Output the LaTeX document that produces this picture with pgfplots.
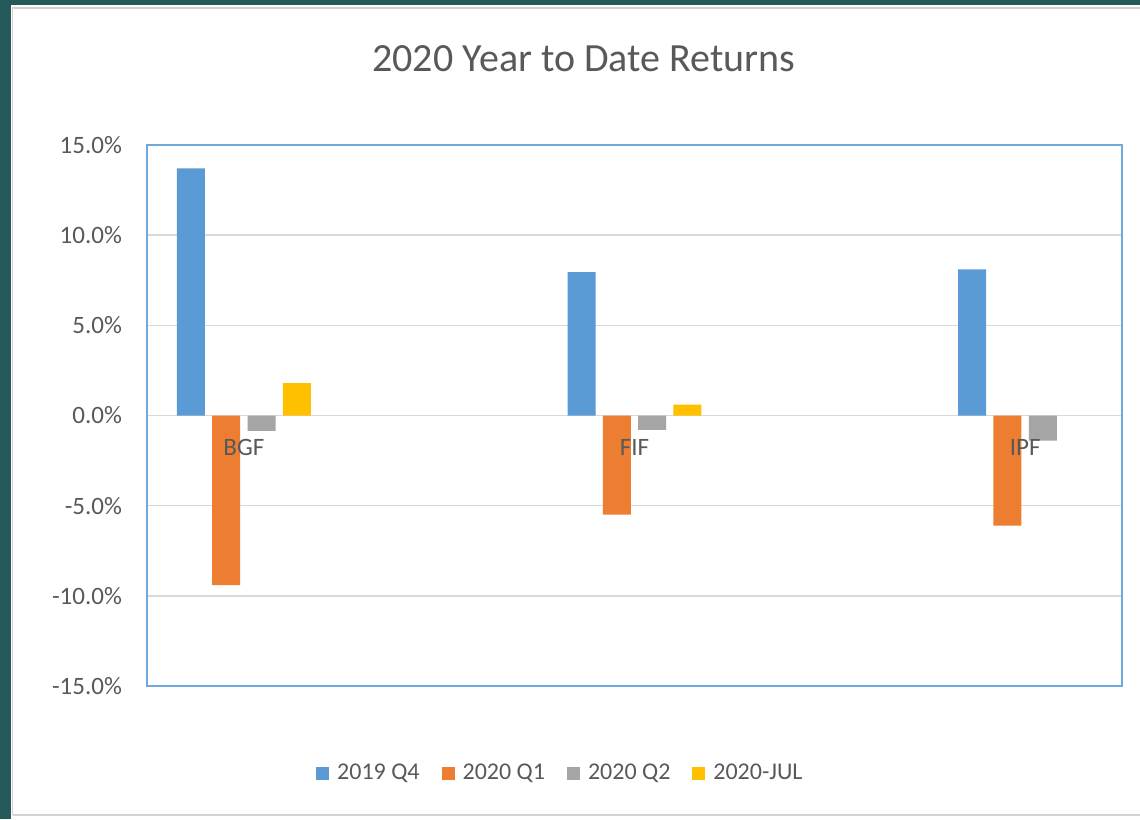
\documentclass[border=0pt]{standalone}
\usepackage{fontspec}
\setmainfont{Carlito}
\usepackage{pgfplots}
\pgfplotsset{compat=1.18}
\definecolor{xlblue}{HTML}{5B9BD5}
\definecolor{xlorange}{HTML}{ED7D31}
\definecolor{xlgray}{HTML}{A5A5A5}
\definecolor{xlyellow}{HTML}{FFC000}
\definecolor{xltext}{HTML}{595959}
\definecolor{xlgrid}{HTML}{D9D9D9}
\definecolor{xlframe}{HTML}{6FA8DC}
\definecolor{sheetteal}{HTML}{245A5A}
\pgfplotsset{
 xlframe/.style={
  at={(73.5pt,66.5pt)},anchor=south west,
  scale only axis,width=487.5pt,height=270.5pt,
  xmin=-0.248,xmax=2.248,ymin=-15,ymax=15,
  major tick length=0pt,
  ticklabel style={font=\fontsize{12.5}{14}\selectfont,text=xltext}},
}
\begin{document}
\begin{tikzpicture}
\useasboundingbox (0,0) rectangle (570pt,409.5pt);
\fill[white] (0,0) rectangle (570pt,409.5pt);
\fill[sheetteal] (0,0) rectangle (5.5pt,409.5pt);
\fill[sheetteal] (0,407pt) rectangle (570pt,409.5pt);
\draw[gray!35,line width=0.8pt] (6.3pt,2pt) -- (6.3pt,405.5pt) -- (570pt,405.5pt);
\draw[gray!35,line width=0.8pt] (6.3pt,2pt) -- (570pt,2pt);
\begin{axis}[
 xlframe,
 ybar=3.65pt,bar width=14pt,
 xtick=\empty,
 ytick={-15,-10,...,15},
 yticklabel={\pgfmathprintnumber[fixed,fixed zerofill,precision=1]{\tick}\%},
 /pgf/number format/assume math mode=true,
 ymajorgrids,major grid style={draw=xlgrid,line width=0.75pt},
 axis line style={draw=xlframe,line width=1pt},
 yticklabel style={xshift=-9pt},
 title={2020 Year to Date Returns},
 title style={at={(0.448,1.137)},anchor=center,font=\fontsize{20}{24}\selectfont,text=xltext},
 legend columns=4,
 legend style={at={(0.425,-0.161)},anchor=center,draw=none,fill=none,
  font=\fontsize{12}{14}\selectfont,text=xltext,
  /tikz/every odd column/.append style={column sep=2pt},
  /tikz/every even column/.append style={column sep=9pt}},
 legend image code/.code={\fill[#1] (0pt,-3.3pt) rectangle (6.5pt,3.3pt);},
 ]
\addplot[fill=xlblue,draw=none] coordinates {(0,13.7) (1,7.95) (2,8.1)};
\addplot[fill=xlorange,draw=none] coordinates {(0,-9.4) (1,-5.5) (2,-6.1)};
\addplot[fill=xlgray,draw=none] coordinates {(0,-0.85) (1,-0.8) (2,-1.4)};
\addplot[fill=xlyellow,draw=none] coordinates {(0,1.8) (1,0.6)};
\legend{2019 Q4,2020 Q1,2020 Q2,2020-JUL}
\end{axis}
% category labels sit on the zero line, over the bars
\begin{axis}[
 xlframe,
 axis line style={draw=none},
 ytick=\empty,
 xtick={0,1,2},xticklabels={BGF,FIF,IPF},
 xticklabel style={yshift=127pt},
 ]
\end{axis}
\end{tikzpicture}
\end{document}
